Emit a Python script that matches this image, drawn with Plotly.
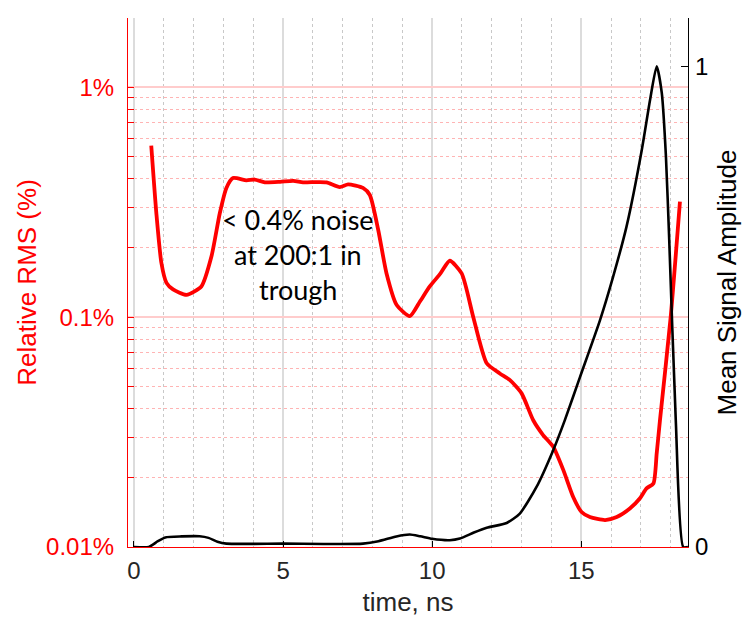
import plotly.graph_objects as go

# Relative RMS noise (percent) versus time
rms_time_ns = [0.58, 0.75, 0.92, 1.09, 1.31, 1.76, 2.26, 2.6, 2.88, 3.1, 3.32, 3.77,
               4.05, 4.39, 4.9, 5.34, 5.67, 6.1, 6.46, 6.9, 7.18, 7.68, 7.91, 8.19,
               8.47, 8.81, 9.25, 9.59, 9.92, 10.28, 10.59, 10.99, 11.38, 11.83, 12.27,
               12.61, 13.0, 13.39, 13.72, 14.06, 14.4, 14.73, 15.01, 15.29, 15.8,
               16.19, 16.63, 16.97, 17.19, 17.42, 17.53, 17.64, 18.0, 18.31]
rms_percent = [0.557, 0.284, 0.172, 0.141, 0.132, 0.125, 0.136, 0.184, 0.284, 0.365,
               0.403, 0.394, 0.397, 0.386, 0.388, 0.392, 0.386, 0.387, 0.386, 0.368,
               0.378, 0.365, 0.340, 0.240, 0.155, 0.113, 0.101, 0.117, 0.136, 0.155,
               0.176, 0.155, 0.100, 0.063, 0.0569, 0.0532, 0.0466, 0.0356, 0.0307,
               0.0273, 0.0216, 0.0165, 0.0142, 0.0135, 0.0131, 0.0135, 0.0147, 0.0163,
               0.0180, 0.0189, 0.0255, 0.0356, 0.1005, 0.318]

# Mean signal amplitude (normalised) versus time
amp_time_ns = [0.0, 0.5, 0.8, 1.05, 1.6, 2.2, 2.5, 2.8, 3.1, 5.0, 7.68, 8.2, 8.8, 9.25,
               9.6, 10.0, 10.59, 10.93, 11.4, 11.83, 12.5, 12.94, 13.5, 14.06, 14.45,
               14.96, 15.63, 16.07, 16.52, 17.03, 17.31, 17.53, 17.70, 17.84, 17.95,
               18.17, 18.42, 18.58]
amp_values = [0.0, 0.0, 0.012, 0.020, 0.022, 0.0223, 0.019, 0.011, 0.007, 0.007, 0.007,
              0.012, 0.022, 0.026, 0.0223, 0.017, 0.014, 0.0175, 0.030, 0.040, 0.050,
              0.0696, 0.125, 0.2015, 0.264, 0.354, 0.472, 0.5625, 0.667, 0.826, 0.931,
              1.0, 0.945, 0.8125, 0.639, 0.264, 0.0, 0.0]

x_ticks = [0, 5, 10, 15]
rms_tick_vals = [0.01, 0.1, 1]
rms_tick_text = ["0.01%", "0.1%", "1%"]
amp_tick_vals = [0, 1]
amp_tick_text = ["0", "1"]
note_lines = ["< 0.4% noise", "at 200:1 in", "trough"]

RED = "#ff0000"
DARK = "#262626"
AXIS_FONT = "Liberation Sans, Arial, sans-serif"

fig = go.Figure()
fig.add_trace(go.Scatter(
    x=rms_time_ns, y=rms_percent, mode="lines",
    line=dict(color=RED, width=3.8, shape="spline", smoothing=0.6),
    yaxis="y", xaxis="x", showlegend=False))
fig.add_trace(go.Scatter(
    x=amp_time_ns, y=amp_values, mode="lines",
    line=dict(color="black", width=2.6, shape="spline", smoothing=0.6),
    yaxis="y2", xaxis="x", showlegend=False))

x_range = [-0.2, 18.58]

fig.update_layout(
    width=748, height=619,
    margin=dict(l=128, r=60, t=18, b=72),
    plot_bgcolor="white", paper_bgcolor="white",
    xaxis=dict(
        range=x_range, tickvals=x_ticks, ticks="inside", ticklen=6, tickwidth=1,
        tickcolor="black", showline=True, linecolor=RED, linewidth=1,
        tickfont=dict(family=AXIS_FONT, size=24, color=DARK),
        ticklabelstandoff=2, automargin=False,
        title=dict(text="time, ns", font=dict(family=AXIS_FONT, size=26, color=DARK),
                   standoff=10),
        showgrid=True, gridcolor="#dcdcdc", gridwidth=1.6,
        minor=dict(dtick=1, showgrid=True, gridcolor="#c8c8c8", griddash="dot",
                   gridwidth=1, ticks=""),
        zeroline=False,
    ),
    xaxis2=dict(
        overlaying="x", side="top", matches="x", range=x_range, tickvals=x_ticks,
        ticks="inside", ticklen=6, tickcolor="black", showticklabels=False,
        showline=True, linecolor="black", linewidth=1.2, showgrid=False,
        zeroline=False, automargin=False,
    ),
    yaxis=dict(
        type="log", range=[-2, 0.3016], tickvals=rms_tick_vals, ticktext=rms_tick_text,
        ticks="inside", ticklen=6, tickcolor=RED, showline=True, linecolor=RED,
        linewidth=1.2, tickfont=dict(family=AXIS_FONT, size=24, color=RED),
        ticklabelstandoff=8, automargin=False,
        title=dict(text="Relative RMS (%)", font=dict(family=AXIS_FONT, size=26, color=RED),
                   standoff=1),
        showgrid=True, gridcolor="#ffcccc", gridwidth=1.6,
        minor=dict(dtick="D1", ticks="inside", ticklen=6, tickcolor=RED,
                   showgrid=True, gridcolor="#ffb4b4", griddash="dot", gridwidth=1),
        zeroline=False,
    ),
    yaxis2=dict(
        overlaying="y", side="right", range=[0, 1.1004], tickvals=amp_tick_vals,
        ticktext=amp_tick_text, ticks="inside", ticklen=7, tickcolor="black",
        showline=True, linecolor="black", linewidth=1.2,
        tickfont=dict(family=AXIS_FONT, size=24, color="black"),
        ticklabelstandoff=1, automargin=False,
        title=dict(text="Mean Signal Amplitude",
                   font=dict(family=AXIS_FONT, size=26, color="black"), standoff=10),
        showgrid=False, zeroline=False,
    ),
)

# Three-line note placed in the plateau region
note_y = [0.620, 0.552, 0.487]
for text, yy in zip(note_lines, note_y):
    fig.add_annotation(
        x=5.5, xref="x", y=yy, yref="paper", text=text, showarrow=False,
        xanchor="center", yanchor="middle",
        font=dict(family="Lato, Open Sans, sans-serif", size=27, color="black"))

fig.write_html("out.html")
